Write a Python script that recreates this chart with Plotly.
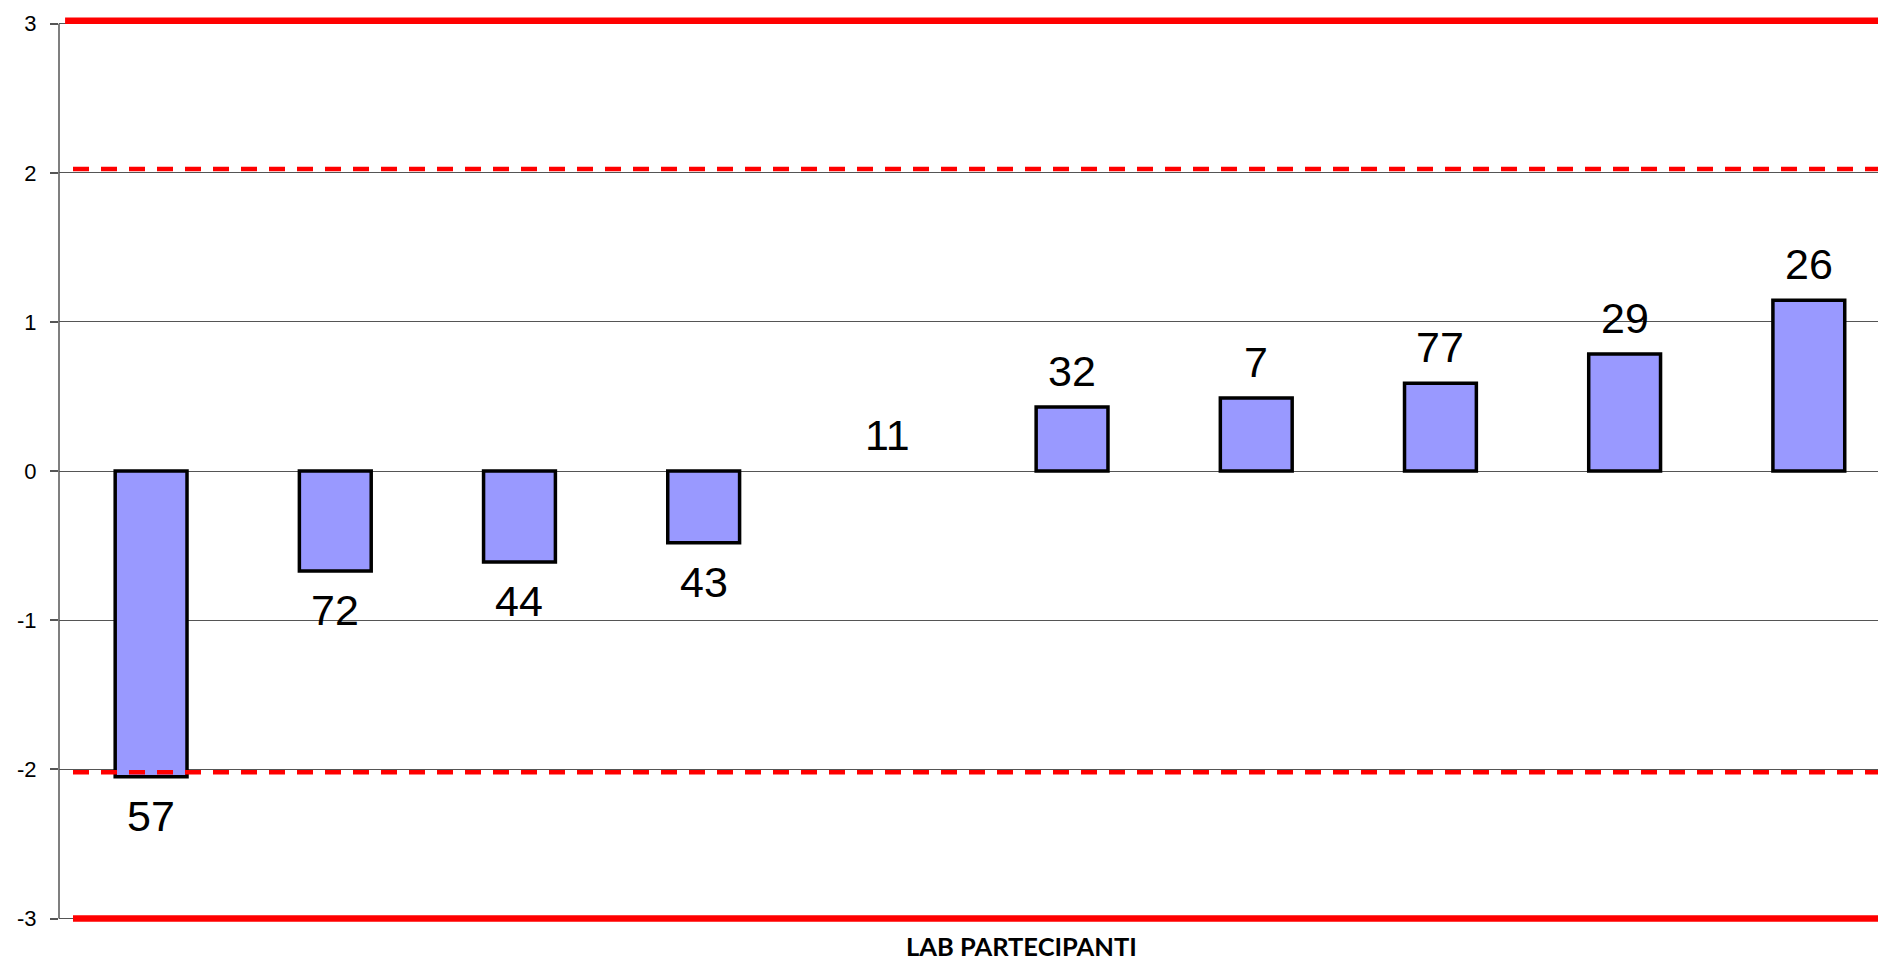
import plotly.graph_objects as go

# ---- data ----
labs = ["57", "72", "44", "43", "11", "32", "7", "77", "29", "26"]
zscores = [-2.05, -0.67, -0.61, -0.48, 0.0, 0.43, 0.49, 0.59, 0.785, 1.145]
y_ticks = [-3, -2, -1, 0, 1, 2, 3]
solid_limits = [3.02, -3.0]     # action limits (solid red)
dashed_limits = [2.025, -2.02]  # warning limits (dashed red)
x_title = "LAB PARTECIPANTI"

# the page body has an 8px margin, so the figure is shifted by 8px
W, H = 1878, 954
fig = go.Figure()

fig.add_trace(go.Bar(
    x=labs, y=zscores,
    marker=dict(color="#9999FF",
                line=dict(color="black", width=[0 if v == 0 else 3.5 for v in zscores])),
    width=0.39,
    showlegend=False, hoverinfo="x+y",
))

# value labels (lab codes) above / below each bar (category index positions)
for i, (lab, v) in enumerate(zip(labs, zscores)):
    pos = v >= 0
    fig.add_annotation(
        x=i, y=v, xref="x", yref="y",
        text=lab, showarrow=False,
        yanchor="bottom" if pos else "top",
        yshift=10 if pos else -13,
        font=dict(family="Liberation Sans, Arial, sans-serif", size=43, color="black"),
    )

# limit lines
for i, yv in enumerate(solid_limits):
    fig.add_shape(type="line", xref="x", yref="y",
                  x0=-0.467 if i == 0 else -0.424, x1=10.5, y0=yv, y1=yv,
                  line=dict(color="#FF0000", width=6.5), layer="above")
for yv in dashed_limits:
    fig.add_shape(type="line", xref="x", yref="y",
                  x0=-0.424, x1=10.5, y0=yv, y1=yv,
                  line=dict(color="#FF0000", width=4.5, dash="16px,12px"), layer="above")

# y axis line (only between -3 and 3)
fig.add_shape(type="line", xref="paper", yref="y", x0=0, x1=0,
              y0=min(y_ticks), y1=max(y_ticks),
              line=dict(color="#555555", width=1.5), layer="above")

# x axis title
fig.add_annotation(
    x=0.527, y=0, xref="paper", yref="paper", yanchor="top", yshift=-6,
    text="<b>" + x_title + "</b>", showarrow=False,
    font=dict(family="Lato, Open Sans, sans-serif", size=25.5, color="black"),
)

fig.update_layout(
    width=W, height=H,
    margin=dict(l=51, r=0, t=9, b=39, pad=0),
    plot_bgcolor="white", paper_bgcolor="white",
    bargap=0.6,
    xaxis=dict(type="category", range=[-0.5, 9.419], showticklabels=False,
               showgrid=False, zeroline=False, showline=False, ticks=""),
    yaxis=dict(range=[-3.03, 3.045], tickvals=y_ticks, ticktext=[str(t) for t in y_ticks],
               showgrid=True, gridcolor="#555555", gridwidth=1,
               zeroline=False, showline=False,
               ticks="outside", ticklen=8, tickcolor="#555555", tickwidth=1.5,
               ticklabelstandoff=9,
               tickfont=dict(family="Liberation Sans, Arial, sans-serif", size=22, color="black")),
)

fig.write_html("out.html")
